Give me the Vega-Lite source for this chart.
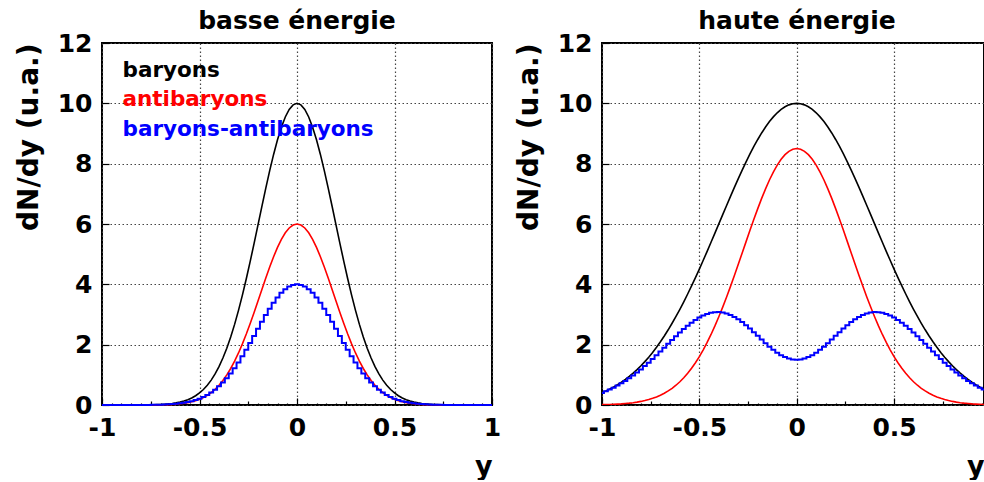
{
  "$schema": "https://vega.github.io/schema/vega-lite/v6.json",
  "background": "white",
  "padding": {"left": 14, "top": 8, "right": 0, "bottom": 0},
  "bounds": "flush",
  "spacing": 110,
  "datasets": {
    "curves": [
      {"x": -1, "lb": 0, "la": 0, "ld": 0, "hb": 0.412, "ha": 0.011, "hd": 0.401},
      {"x": -0.98, "lb": 0, "la": 0, "ld": 0, "hb": 0.468, "ha": 0.014, "hd": 0.454},
      {"x": -0.96, "lb": 0, "la": 0, "ld": 0, "hb": 0.529, "ha": 0.018, "hd": 0.511},
      {"x": -0.94, "lb": 0, "la": 0, "ld": 0, "hb": 0.598, "ha": 0.023, "hd": 0.575},
      {"x": -0.92, "lb": 0, "la": 0, "ld": 0, "hb": 0.673, "ha": 0.03, "hd": 0.643},
      {"x": -0.9, "lb": 0, "la": 0, "ld": 0, "hb": 0.756, "ha": 0.038, "hd": 0.718},
      {"x": -0.88, "lb": 0, "la": 0, "ld": 0, "hb": 0.846, "ha": 0.049, "hd": 0.797},
      {"x": -0.86, "lb": 0.001, "la": 0, "ld": 0.001, "hb": 0.946, "ha": 0.061, "hd": 0.885},
      {"x": -0.84, "lb": 0.001, "la": 0, "ld": 0.001, "hb": 1.054, "ha": 0.077, "hd": 0.977},
      {"x": -0.82, "lb": 0.002, "la": 0, "ld": 0.002, "hb": 1.172, "ha": 0.096, "hd": 1.076},
      {"x": -0.8, "lb": 0.003, "la": 0.001, "ld": 0.002, "hb": 1.299, "ha": 0.119, "hd": 1.18},
      {"x": -0.78, "lb": 0.004, "la": 0.001, "ld": 0.003, "hb": 1.437, "ha": 0.147, "hd": 1.29},
      {"x": -0.76, "lb": 0.006, "la": 0.002, "ld": 0.004, "hb": 1.585, "ha": 0.181, "hd": 1.404},
      {"x": -0.74, "lb": 0.009, "la": 0.003, "ld": 0.006, "hb": 1.744, "ha": 0.221, "hd": 1.523},
      {"x": -0.72, "lb": 0.013, "la": 0.005, "ld": 0.008, "hb": 1.915, "ha": 0.268, "hd": 1.647},
      {"x": -0.7, "lb": 0.018, "la": 0.007, "ld": 0.011, "hb": 2.096, "ha": 0.324, "hd": 1.772},
      {"x": -0.68, "lb": 0.026, "la": 0.01, "ld": 0.016, "hb": 2.289, "ha": 0.39, "hd": 1.899},
      {"x": -0.66, "lb": 0.036, "la": 0.014, "ld": 0.022, "hb": 2.493, "ha": 0.466, "hd": 2.027},
      {"x": -0.64, "lb": 0.051, "la": 0.021, "ld": 0.03, "hb": 2.709, "ha": 0.554, "hd": 2.155},
      {"x": -0.62, "lb": 0.071, "la": 0.029, "ld": 0.042, "hb": 2.935, "ha": 0.655, "hd": 2.28},
      {"x": -0.6, "lb": 0.097, "la": 0.041, "ld": 0.056, "hb": 3.173, "ha": 0.771, "hd": 2.402},
      {"x": -0.58, "lb": 0.131, "la": 0.057, "ld": 0.074, "hb": 3.421, "ha": 0.902, "hd": 2.519},
      {"x": -0.56, "lb": 0.176, "la": 0.078, "ld": 0.098, "hb": 3.679, "ha": 1.051, "hd": 2.628},
      {"x": -0.54, "lb": 0.233, "la": 0.106, "ld": 0.127, "hb": 3.946, "ha": 1.217, "hd": 2.729},
      {"x": -0.52, "lb": 0.307, "la": 0.142, "ld": 0.165, "hb": 4.222, "ha": 1.401, "hd": 2.821},
      {"x": -0.5, "lb": 0.399, "la": 0.188, "ld": 0.211, "hb": 4.506, "ha": 1.605, "hd": 2.901},
      {"x": -0.48, "lb": 0.514, "la": 0.247, "ld": 0.267, "hb": 4.797, "ha": 1.83, "hd": 2.967},
      {"x": -0.46, "lb": 0.654, "la": 0.32, "ld": 0.334, "hb": 5.093, "ha": 2.074, "hd": 3.019},
      {"x": -0.44, "lb": 0.825, "la": 0.411, "ld": 0.414, "hb": 5.394, "ha": 2.338, "hd": 3.056},
      {"x": -0.42, "lb": 1.03, "la": 0.521, "ld": 0.509, "hb": 5.698, "ha": 2.622, "hd": 3.076},
      {"x": -0.4, "lb": 1.272, "la": 0.654, "ld": 0.618, "hb": 6.004, "ha": 2.925, "hd": 3.079},
      {"x": -0.38, "lb": 1.556, "la": 0.812, "ld": 0.744, "hb": 6.31, "ha": 3.246, "hd": 3.064},
      {"x": -0.36, "lb": 1.882, "la": 0.997, "ld": 0.885, "hb": 6.615, "ha": 3.582, "hd": 3.033},
      {"x": -0.34, "lb": 2.254, "la": 1.21, "ld": 1.044, "hb": 6.917, "ha": 3.933, "hd": 2.984},
      {"x": -0.32, "lb": 2.672, "la": 1.453, "ld": 1.219, "hb": 7.214, "ha": 4.295, "hd": 2.919},
      {"x": -0.3, "lb": 3.136, "la": 1.725, "ld": 1.411, "hb": 7.505, "ha": 4.665, "hd": 2.84},
      {"x": -0.28, "lb": 3.641, "la": 2.026, "ld": 1.615, "hb": 7.788, "ha": 5.04, "hd": 2.748},
      {"x": -0.26, "lb": 4.185, "la": 2.352, "ld": 1.833, "hb": 8.061, "ha": 5.416, "hd": 2.645},
      {"x": -0.24, "lb": 4.76, "la": 2.702, "ld": 2.058, "hb": 8.322, "ha": 5.79, "hd": 2.532},
      {"x": -0.22, "lb": 5.36, "la": 3.069, "ld": 2.291, "hb": 8.57, "ha": 6.156, "hd": 2.414},
      {"x": -0.2, "lb": 5.972, "la": 3.448, "ld": 2.524, "hb": 8.802, "ha": 6.51, "hd": 2.292},
      {"x": -0.18, "lb": 6.587, "la": 3.831, "ld": 2.756, "hb": 9.018, "ha": 6.849, "hd": 2.169},
      {"x": -0.16, "lb": 7.19, "la": 4.209, "ld": 2.981, "hb": 9.216, "ha": 7.166, "hd": 2.05},
      {"x": -0.14, "lb": 7.768, "la": 4.574, "ld": 3.194, "hb": 9.394, "ha": 7.459, "hd": 1.935},
      {"x": -0.12, "lb": 8.306, "la": 4.915, "ld": 3.391, "hb": 9.551, "ha": 7.722, "hd": 1.829},
      {"x": -0.1, "lb": 8.791, "la": 5.224, "ld": 3.567, "hb": 9.686, "ha": 7.952, "hd": 1.734},
      {"x": -0.08, "lb": 9.208, "la": 5.491, "ld": 3.717, "hb": 9.798, "ha": 8.145, "hd": 1.653},
      {"x": -0.06, "lb": 9.547, "la": 5.708, "ld": 3.839, "hb": 9.886, "ha": 8.298, "hd": 1.588},
      {"x": -0.04, "lb": 9.796, "la": 5.868, "ld": 3.928, "hb": 9.949, "ha": 8.41, "hd": 1.539},
      {"x": -0.02, "lb": 9.949, "la": 5.967, "ld": 3.982, "hb": 9.987, "ha": 8.477, "hd": 1.51},
      {"x": 0, "lb": 10, "la": 6, "ld": 4, "hb": 10, "ha": 8.5, "hd": 1.5},
      {"x": 0.02, "lb": 9.949, "la": 5.967, "ld": 3.982, "hb": 9.987, "ha": 8.477, "hd": 1.51},
      {"x": 0.04, "lb": 9.796, "la": 5.868, "ld": 3.928, "hb": 9.949, "ha": 8.41, "hd": 1.539},
      {"x": 0.06, "lb": 9.547, "la": 5.708, "ld": 3.839, "hb": 9.886, "ha": 8.298, "hd": 1.588},
      {"x": 0.08, "lb": 9.208, "la": 5.491, "ld": 3.717, "hb": 9.798, "ha": 8.145, "hd": 1.653},
      {"x": 0.1, "lb": 8.791, "la": 5.224, "ld": 3.567, "hb": 9.686, "ha": 7.952, "hd": 1.734},
      {"x": 0.12, "lb": 8.306, "la": 4.915, "ld": 3.391, "hb": 9.551, "ha": 7.722, "hd": 1.829},
      {"x": 0.14, "lb": 7.768, "la": 4.574, "ld": 3.194, "hb": 9.394, "ha": 7.459, "hd": 1.935},
      {"x": 0.16, "lb": 7.19, "la": 4.209, "ld": 2.981, "hb": 9.216, "ha": 7.166, "hd": 2.05},
      {"x": 0.18, "lb": 6.587, "la": 3.831, "ld": 2.756, "hb": 9.018, "ha": 6.849, "hd": 2.169},
      {"x": 0.2, "lb": 5.972, "la": 3.448, "ld": 2.524, "hb": 8.802, "ha": 6.51, "hd": 2.292},
      {"x": 0.22, "lb": 5.36, "la": 3.069, "ld": 2.291, "hb": 8.57, "ha": 6.156, "hd": 2.414},
      {"x": 0.24, "lb": 4.76, "la": 2.702, "ld": 2.058, "hb": 8.322, "ha": 5.79, "hd": 2.532},
      {"x": 0.26, "lb": 4.185, "la": 2.352, "ld": 1.833, "hb": 8.061, "ha": 5.416, "hd": 2.645},
      {"x": 0.28, "lb": 3.641, "la": 2.026, "ld": 1.615, "hb": 7.788, "ha": 5.04, "hd": 2.748},
      {"x": 0.3, "lb": 3.136, "la": 1.725, "ld": 1.411, "hb": 7.505, "ha": 4.665, "hd": 2.84},
      {"x": 0.32, "lb": 2.672, "la": 1.453, "ld": 1.219, "hb": 7.214, "ha": 4.295, "hd": 2.919},
      {"x": 0.34, "lb": 2.254, "la": 1.21, "ld": 1.044, "hb": 6.917, "ha": 3.933, "hd": 2.984},
      {"x": 0.36, "lb": 1.882, "la": 0.997, "ld": 0.885, "hb": 6.615, "ha": 3.582, "hd": 3.033},
      {"x": 0.38, "lb": 1.556, "la": 0.812, "ld": 0.744, "hb": 6.31, "ha": 3.246, "hd": 3.064},
      {"x": 0.4, "lb": 1.272, "la": 0.654, "ld": 0.618, "hb": 6.004, "ha": 2.925, "hd": 3.079},
      {"x": 0.42, "lb": 1.03, "la": 0.521, "ld": 0.509, "hb": 5.698, "ha": 2.622, "hd": 3.076},
      {"x": 0.44, "lb": 0.825, "la": 0.411, "ld": 0.414, "hb": 5.394, "ha": 2.338, "hd": 3.056},
      {"x": 0.46, "lb": 0.654, "la": 0.32, "ld": 0.334, "hb": 5.093, "ha": 2.074, "hd": 3.019},
      {"x": 0.48, "lb": 0.514, "la": 0.247, "ld": 0.267, "hb": 4.797, "ha": 1.83, "hd": 2.967},
      {"x": 0.5, "lb": 0.399, "la": 0.188, "ld": 0.211, "hb": 4.506, "ha": 1.605, "hd": 2.901},
      {"x": 0.52, "lb": 0.307, "la": 0.142, "ld": 0.165, "hb": 4.222, "ha": 1.401, "hd": 2.821},
      {"x": 0.54, "lb": 0.233, "la": 0.106, "ld": 0.127, "hb": 3.946, "ha": 1.217, "hd": 2.729},
      {"x": 0.56, "lb": 0.176, "la": 0.078, "ld": 0.098, "hb": 3.679, "ha": 1.051, "hd": 2.628},
      {"x": 0.58, "lb": 0.131, "la": 0.057, "ld": 0.074, "hb": 3.421, "ha": 0.902, "hd": 2.519},
      {"x": 0.6, "lb": 0.097, "la": 0.041, "ld": 0.056, "hb": 3.173, "ha": 0.771, "hd": 2.402},
      {"x": 0.62, "lb": 0.071, "la": 0.029, "ld": 0.042, "hb": 2.935, "ha": 0.655, "hd": 2.28},
      {"x": 0.64, "lb": 0.051, "la": 0.021, "ld": 0.03, "hb": 2.709, "ha": 0.554, "hd": 2.155},
      {"x": 0.66, "lb": 0.036, "la": 0.014, "ld": 0.022, "hb": 2.493, "ha": 0.466, "hd": 2.027},
      {"x": 0.68, "lb": 0.026, "la": 0.01, "ld": 0.016, "hb": 2.289, "ha": 0.39, "hd": 1.899},
      {"x": 0.7, "lb": 0.018, "la": 0.007, "ld": 0.011, "hb": 2.096, "ha": 0.324, "hd": 1.772},
      {"x": 0.72, "lb": 0.013, "la": 0.005, "ld": 0.008, "hb": 1.915, "ha": 0.268, "hd": 1.647},
      {"x": 0.74, "lb": 0.009, "la": 0.003, "ld": 0.006, "hb": 1.744, "ha": 0.221, "hd": 1.523},
      {"x": 0.76, "lb": 0.006, "la": 0.002, "ld": 0.004, "hb": 1.585, "ha": 0.181, "hd": 1.404},
      {"x": 0.78, "lb": 0.004, "la": 0.001, "ld": 0.003, "hb": 1.437, "ha": 0.147, "hd": 1.29},
      {"x": 0.8, "lb": 0.003, "la": 0.001, "ld": 0.002, "hb": 1.299, "ha": 0.119, "hd": 1.18},
      {"x": 0.82, "lb": 0.002, "la": 0, "ld": 0.002, "hb": 1.172, "ha": 0.096, "hd": 1.076},
      {"x": 0.84, "lb": 0.001, "la": 0, "ld": 0.001, "hb": 1.054, "ha": 0.077, "hd": 0.977},
      {"x": 0.86, "lb": 0.001, "la": 0, "ld": 0.001, "hb": 0.946, "ha": 0.061, "hd": 0.885},
      {"x": 0.88, "lb": 0, "la": 0, "ld": 0, "hb": 0.846, "ha": 0.049, "hd": 0.797},
      {"x": 0.9, "lb": 0, "la": 0, "ld": 0, "hb": 0.756, "ha": 0.038, "hd": 0.718},
      {"x": 0.92, "lb": 0, "la": 0, "ld": 0, "hb": 0.673, "ha": 0.03, "hd": 0.643},
      {"x": 0.94, "lb": 0, "la": 0, "ld": 0, "hb": 0.598, "ha": 0.023, "hd": 0.575},
      {"x": 0.96, "lb": 0, "la": 0, "ld": 0, "hb": 0.529, "ha": 0.018, "hd": 0.511},
      {"x": 0.98, "lb": 0, "la": 0, "ld": 0, "hb": 0.468, "ha": 0.014, "hd": 0.454},
      {"x": 1, "lb": 0, "la": 0, "ld": 0, "hb": 0.412, "ha": 0.011, "hd": 0.401}
    ]
  },
  "config": {
    "font": "DejaVu Sans",
    "view": {"stroke": "#000000", "strokeWidth": 2},
    "axis": {
      "domain": false,
      "labelFont": "DejaVu Sans",
      "labelFontWeight": "bold",
      "labelFontSize": 25,
      "labelColor": "#000000",
      "labelOverlap": false,
      "labelFlush": false,
      "labelBound": false,
      "titleFont": "DejaVu Sans",
      "titleFontWeight": "bold",
      "titleColor": "#000000",
      "tickColor": "#000000",
      "tickWidth": 1.2,
      "grid": true,
      "gridColor": "#444444",
      "gridDash": [1.5, 2.5],
      "gridWidth": 1.2
    },
    "title": {"font": "DejaVu Sans", "fontWeight": "bold", "fontSize": 25, "color": "#000000", "frame": "group"},
    "line": {"strokeWidth": 1.6}
  },
  "hconcat": [
    {
      "width": 390,
      "height": 362,
      "title": {"text": "basse énergie", "offset": -3},
      "data": {"name": "curves"},
      "encoding": {
        "x": {
          "field": "x",
          "type": "quantitative",
          "scale": {"domain": [-1, 1], "nice": false, "zero": false},
          "axis": {
            "title": "y",
            "titleFontSize": 27,
            "titleAnchor": "end",
            "titlePadding": 8,
            "labelPadding": 17,
            "labelOverlap": false,
            "values": [-1, -0.95, -0.9, -0.85, -0.8, -0.75, -0.7, -0.65, -0.6, -0.55, -0.5, -0.45, -0.4, -0.35, -0.3, -0.25, -0.2, -0.15, -0.1, -0.05, 0, 0.05, 0.1, 0.15, 0.2, 0.25, 0.3, 0.35, 0.4, 0.45, 0.5, 0.55, 0.6, 0.65, 0.7, 0.75, 0.8, 0.85, 0.9, 0.95, 1],
            "labelExpr": "abs(datum.value*2 - round(datum.value*2)) < 0.001 ? toString(datum.value) : ''",
            "gridOpacity": {"condition": {"test": "abs(datum.value*2 - round(datum.value*2)) < 0.001", "value": 1}, "value": 0},
            "tickSize": {"condition": [{"test": "abs(datum.value*2 - round(datum.value*2)) < 0.001", "value": -7}, {"test": "abs(datum.value*4 - round(datum.value*4)) < 0.001", "value": -4}], "value": -2}
          }
        }
      },
      "layer": [
        {
          "mark": {"type": "line", "strokeWidth": 1.6},
          "encoding": {
            "y": {
              "field": "lb",
              "type": "quantitative",
              "title": "dN/dy (u.a.)",
              "scale": {"domain": [0, 12], "nice": false},
              "axis": {
                "titleFontSize": 28,
                "titleAnchor": "end",
                "titlePadding": 14,
                "labelPadding": 17,
                "labelOverlap": false,
                "values": [0, 1, 2, 3, 4, 5, 6, 7, 8, 9, 10, 11, 12],
                "labelExpr": "datum.value % 2 == 0 ? toString(datum.value) : ''",
                "gridOpacity": {"condition": {"test": "datum.value % 2 == 0", "value": 1}, "value": 0},
                "tickSize": {"condition": {"test": "datum.value % 2 == 0", "value": -7}, "value": -4}
              }
            },
            "color": {
              "datum": "baryons",
              "type": "nominal",
              "scale": {"domain": ["baryons", "antibaryons", "baryons-antibaryons"], "range": ["#000000", "#ff0000", "#0000ff"]},
              "legend": {
                "orient": "none",
                "legendX": -1,
                "legendY": 17,
                "title": null,
                "symbolSize": 0,
                "symbolOpacity": 0,
                "symbolStrokeWidth": 0,
                "labelFont": "DejaVu Sans",
                "labelFontSize": 21.5,
                "labelFontWeight": "bold",
                "labelOffset": 0,
                "labelLimit": 400,
                "rowPadding": 6.5,
                "labelColor": {"expr": "datum.value == 'antibaryons' ? '#ff0000' : datum.value == 'baryons-antibaryons' ? '#0000ff' : '#000000'"}
              }
            }
          }
        },
        {
          "mark": {"type": "line", "strokeWidth": 1.6},
          "encoding": {
            "y": {"field": "la", "type": "quantitative", "title": "dN/dy (u.a.)"},
            "color": {"datum": "antibaryons", "type": "nominal"}
          }
        },
        {
          "mark": {"type": "line", "strokeWidth": 2, "interpolate": "step"},
          "encoding": {
            "y": {"field": "ld", "type": "quantitative", "title": "dN/dy (u.a.)"},
            "color": {"datum": "baryons-antibaryons", "type": "nominal"}
          }
        }
      ]
    },
    {
      "width": 382,
      "height": 362,
      "title": {"text": "haute énergie", "offset": -3, "dx": 4},
      "data": {"name": "curves"},
      "encoding": {
        "x": {
          "field": "x",
          "type": "quantitative",
          "scale": {"domain": [-1, 0.962], "nice": false, "zero": false},
          "axis": {
            "title": "y",
            "titleFontSize": 27,
            "titleAnchor": "end",
            "titlePadding": 8,
            "labelPadding": 17,
            "labelOverlap": false,
            "values": [-1, -0.95, -0.9, -0.85, -0.8, -0.75, -0.7, -0.65, -0.6, -0.55, -0.5, -0.45, -0.4, -0.35, -0.3, -0.25, -0.2, -0.15, -0.1, -0.05, 0, 0.05, 0.1, 0.15, 0.2, 0.25, 0.3, 0.35, 0.4, 0.45, 0.5, 0.55, 0.6, 0.65, 0.7, 0.75, 0.8, 0.85, 0.9, 0.95],
            "labelExpr": "abs(datum.value*2 - round(datum.value*2)) < 0.001 ? toString(datum.value) : ''",
            "gridOpacity": {"condition": {"test": "abs(datum.value*2 - round(datum.value*2)) < 0.001", "value": 1}, "value": 0},
            "tickSize": {"condition": [{"test": "abs(datum.value*2 - round(datum.value*2)) < 0.001", "value": -7}, {"test": "abs(datum.value*4 - round(datum.value*4)) < 0.001", "value": -4}], "value": -2}
          }
        }
      },
      "layer": [
        {
          "mark": {"type": "line", "strokeWidth": 1.6, "color": "#000000", "clip": true},
          "encoding": {
            "y": {
              "field": "hb",
              "type": "quantitative",
              "title": "dN/dy (u.a.)",
              "scale": {"domain": [0, 12], "nice": false},
              "axis": {
                "titleFontSize": 28,
                "titleAnchor": "end",
                "titlePadding": 14,
                "labelPadding": 17,
                "labelOverlap": false,
                "values": [0, 1, 2, 3, 4, 5, 6, 7, 8, 9, 10, 11, 12],
                "labelExpr": "datum.value % 2 == 0 ? toString(datum.value) : ''",
                "gridOpacity": {"condition": {"test": "datum.value % 2 == 0", "value": 1}, "value": 0},
                "tickSize": {"condition": {"test": "datum.value % 2 == 0", "value": -7}, "value": -4}
              }
            }
          }
        },
        {
          "mark": {"type": "line", "strokeWidth": 1.6, "color": "#ff0000", "clip": true},
          "encoding": {
            "y": {"field": "ha", "type": "quantitative", "title": "dN/dy (u.a.)"}
          }
        },
        {
          "mark": {"type": "line", "strokeWidth": 2, "color": "#0000ff", "interpolate": "step", "clip": true},
          "encoding": {
            "y": {"field": "hd", "type": "quantitative", "title": "dN/dy (u.a.)"}
          }
        }
      ]
    }
  ]
}
